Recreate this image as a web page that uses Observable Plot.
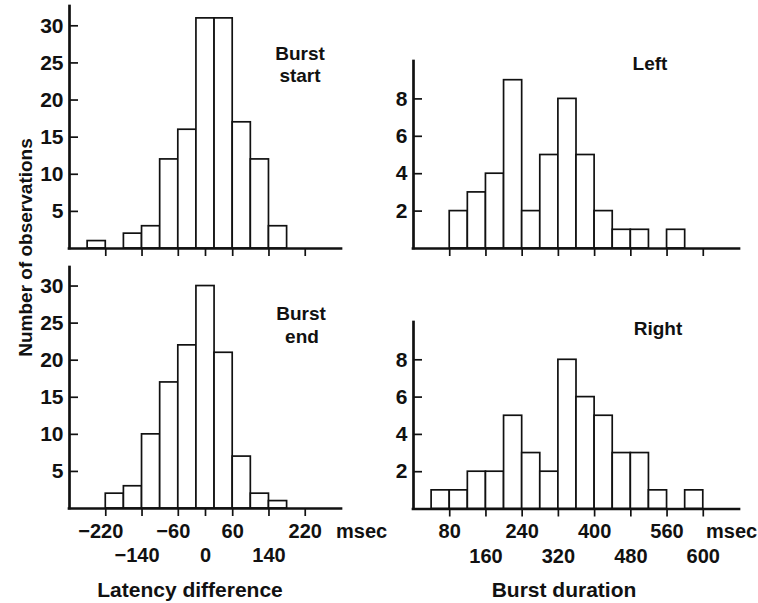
<!DOCTYPE html>
<html><head><meta charset="utf-8">
<script src="https://cdn.jsdelivr.net/npm/d3@7"></script>
<script src="https://cdn.jsdelivr.net/npm/@observablehq/plot@0.6"></script>
<style>
body{margin:0;background:#fff;}
#fig{position:relative;width:758px;height:603px;font-family:"Liberation Sans",Arial,sans-serif;font-weight:bold;color:#111;}
#fig svg{position:absolute;}
</style></head><body><div id="fig"></div>
<script>
// ---- data ----
const binWidth = 40;
const latencyBinStart = [-260,-220,-180,-140,-100,-60,-20,20,60,100,140];
const burstStartCounts = [1,0,2,3,12,16,31,31,17,12,3];
const burstEndCounts   = [0,2,3,10,17,22,30,21,7,2,1];
const durationBinStart = [40,80,120,160,200,240,280,320,360,400,440,480,520,560,600];
const leftCounts  = [0,2,3,4,9,2,5,8,5,2,1,1,0,1,0];
const rightCounts = [1,1,2,2,5,3,2,8,6,5,3,3,1,0,1];
const latencyTicks = [-220,-140,-60,0,60,140,220];
const latencyTickLabels = ["−220","−140","−60","0","60","140","220"];
const durationTicks = [80,160,240,320,400,480,560,640];
const durationTickLabels = ["80","160","240","320","400","480","560","600"];
const latencyYTicks = [5,10,15,20,25,30];
const durationYTicks = [2,4,6,8];
const latencyDomain = [-300,300];
const durationDomain = [0,720];

const fig = document.getElementById("fig");
const INK = "#111";
const FONT = "Liberation Sans, Arial, sans-serif";

function panel(o){
  const data = o.starts.map((s,i)=>({x1:s, x2:s+binWidth, n:o.counts[i]})).filter(d=>d.n>0);
  const lab = d => { const s = o.xLabels[o.xTicks.indexOf(d)]; return s.startsWith("−") ? s + "\u2002" : s; };
  const marks = [
    Plot.rectY(data, {x1:"x1", x2:"x2", y:"n", fill:"white", stroke:INK, strokeWidth:1.7}),
    Plot.ruleY([o.yDomain[0]], {stroke:INK, strokeWidth:2.7, strokeLinecap:"square"}),
    Plot.ruleX([o.xDomain[0]], {stroke:INK, strokeWidth:2.7, strokeLinecap:"square"}),
    Plot.axisY({ticks:o.yTicks, tickSize:-9, tickPadding:15, label:null, strokeWidth:1.7, fontSize:21, fontWeight:"bold"})
  ];
  if (o.showLabels){
    marks.push(Plot.axisX({ticks:o.xTicks.filter((d,i)=>i%2===0), tickSize:8, tickPadding:7, tickFormat:lab, label:null, strokeWidth:1.7, fontSize:20, fontWeight:"bold"}));
    marks.push(Plot.axisX({ticks:o.xTicks.filter((d,i)=>i%2===1), tickSize:8, tickPadding:31.5, tickFormat:lab, label:null, strokeWidth:1.7, fontSize:20, fontWeight:"bold"}));
  } else {
    marks.push(Plot.axisX({ticks:o.xTicks, tickSize:8, fill:"none", label:null, strokeWidth:1.7}));
  }
  const p = Plot.plot({
    width:o.width, height:o.height,
    marginLeft:o.m[0], marginRight:o.m[1], marginTop:o.m[2], marginBottom:o.m[3],
    x:{domain:o.xDomain}, y:{domain:o.yDomain},
    style:{fontFamily:FONT, fontSize:"20px", fontWeight:"bold", color:INK, background:"transparent", overflow:"visible"},
    marks
  });
  p.style.left = o.left + "px"; p.style.top = o.top + "px";
  fig.appendChild(p);
}

panel({starts:latencyBinStart, counts:burstStartCounts, xDomain:latencyDomain, yDomain:[0,32.6], xTicks:latencyTicks, xLabels:latencyTickLabels, yTicks:latencyYTicks, showLabels:false, left:0, top:0, width:380, height:260, m:[69,39,6,12]});
panel({starts:durationBinStart, counts:leftCounts, xDomain:durationDomain, yDomain:[0,10], xTicks:durationTicks, xLabels:durationTickLabels, yTicks:durationYTicks, showLabels:false, left:380, top:0, width:378, height:260, m:[33,19,61,12]});
panel({starts:latencyBinStart, counts:burstEndCounts, xDomain:latencyDomain, yDomain:[0,32.5], xTicks:latencyTicks, xLabels:latencyTickLabels, yTicks:latencyYTicks, showLabels:true, left:0, top:260, width:380, height:343, m:[69,39,7,95]});
panel({starts:durationBinStart, counts:rightCounts, xDomain:durationDomain, yDomain:[0,10], xTicks:durationTicks, xLabels:durationTickLabels, yTicks:durationYTicks, showLabels:true, left:380, top:260, width:378, height:343, m:[33,19,62,94.5]});

// ---- annotation text ----
const ov = d3.select(fig).append("svg").attr("width",758).attr("height",603)
  .style("left","0px").style("top","0px").style("pointer-events","none")
  .attr("font-family",FONT).attr("font-weight","bold").attr("fill",INK);
function t(str,x,y,size,anchor="middle",rot=0){
  ov.append("text").attr("transform",`translate(${x},${y}) rotate(${rot})`)
    .attr("text-anchor",anchor).attr("font-size",size).text(str);
}
t("Number of observations",31.7,247.5,19,"middle",-90);
t("Latency difference",190,597,21);
t("Burst duration",564,597,21);
t("msec",336,537.5,20,"start");
t("msec",706,537.5,20,"start");
t("Burst",300,60,19); t("start",300,82,19);
t("Left",650,70,19);
t("Burst",301,320,19); t("end",302,343,19);
t("Right",658,335,19);
</script></body></html>
